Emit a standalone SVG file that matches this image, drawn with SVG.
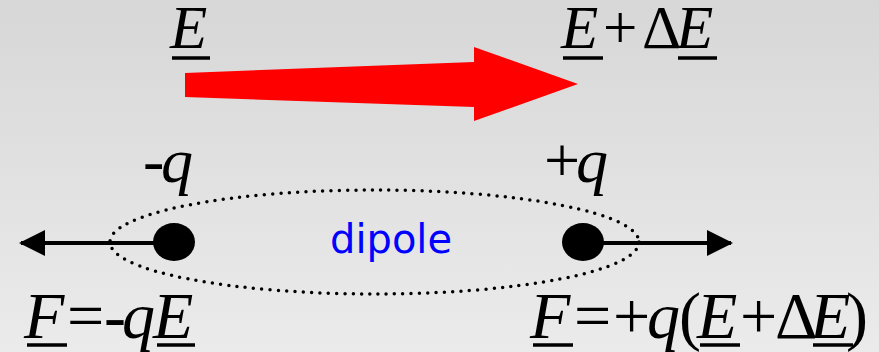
<svg xmlns="http://www.w3.org/2000/svg" width="879" height="352" viewBox="0 0 879 352">
<defs>
<linearGradient id="bg" x1="0" y1="0" x2="0" y2="1">
<stop offset="0" stop-color="#d7d7d7"/>
<stop offset="1" stop-color="#ebebeb"/>
</linearGradient>
<marker id="ah" viewBox="0 0 26 26" refX="24" refY="13" markerWidth="26" markerHeight="26" markerUnits="userSpaceOnUse" orient="auto">
<path d="M0,0 L26,13 L0,26 Z" fill="#000"/>
</marker>
<style>
.m{font-family:"Liberation Serif","Times New Roman",serif;fill:#000}
.i{font-style:italic}
.t{font-size:61px}
.q{font-size:64px}
.b{font-size:66px}
.ul{stroke:#000;stroke-width:3.5}
.lbl{font-family:"DejaVu Sans",Verdana,sans-serif;font-size:40px;fill:#0000ff}
.force{stroke:#000;stroke-width:4;fill:none}
</style>
</defs>
<rect width="879" height="352" fill="url(#bg)"/>
<g id="field">
<polygon points="185,73 474,62 474,47 578,84 474,121 474,107 185,97" fill="#ff0000"/>
<text class="m t i" x="170" y="48">E</text>
<line class="ul" x1="172" y1="58" x2="210" y2="58"/>
<text class="m t" y="48"><tspan class="i" x="561">E</tspan><tspan x="603">+</tspan><tspan x="642">Δ</tspan><tspan class="i" x="676">E</tspan></text>
<line class="ul" x1="563" y1="58" x2="603" y2="58"/>
<line class="ul" x1="678" y1="58" x2="717" y2="58"/>
</g>
<g id="dipole">
<ellipse cx="374.5" cy="242" rx="264.5" ry="52" fill="none" stroke="#000" stroke-width="3.5" stroke-linecap="round" stroke-dasharray="0 8.3"/>
<text class="lbl" x="330" y="253">dipole</text>
</g>
<g id="charge-neg">
<ellipse cx="174" cy="242" rx="21" ry="19" fill="#000"/>
<text class="m q" y="182"><tspan x="143">-</tspan><tspan class="i" x="161">q</tspan></text>
</g>
<g id="charge-pos">
<ellipse cx="583" cy="242" rx="21" ry="19" fill="#000"/>
<text class="m q" y="182"><tspan x="544">+</tspan><tspan class="i" x="576">q</tspan></text>
</g>
<g id="connectors">
<line class="force" x1="174" y1="243" x2="21" y2="243" marker-end="url(#ah)"/>
<line class="force" x1="583" y1="243" x2="731" y2="243" marker-end="url(#ah)"/>
</g>
<g id="force-neg">
<text class="m b" y="338"><tspan class="i" x="24">F</tspan><tspan x="67">=</tspan><tspan x="104">-</tspan><tspan class="i" x="122">q</tspan><tspan class="i" x="153">E</tspan></text>
<line class="ul" x1="27" y1="345" x2="67" y2="345"/>
<line class="ul" x1="157" y1="345" x2="195" y2="345"/>
</g>
<g id="force-pos">
<text class="m b" y="338"><tspan class="i" x="530">F</tspan><tspan x="574">=</tspan><tspan x="613">+</tspan><tspan class="i" x="647">q</tspan><tspan x="679">(</tspan><tspan class="i" x="697">E</tspan><tspan x="740">+</tspan><tspan x="775">Δ</tspan><tspan class="i" x="810">E</tspan><tspan x="846">)</tspan></text>
<line class="ul" x1="533" y1="345" x2="573" y2="345"/>
<line class="ul" x1="700" y1="345" x2="740" y2="345"/>
<line class="ul" x1="813" y1="345" x2="853" y2="345"/>
</g>
</svg>
